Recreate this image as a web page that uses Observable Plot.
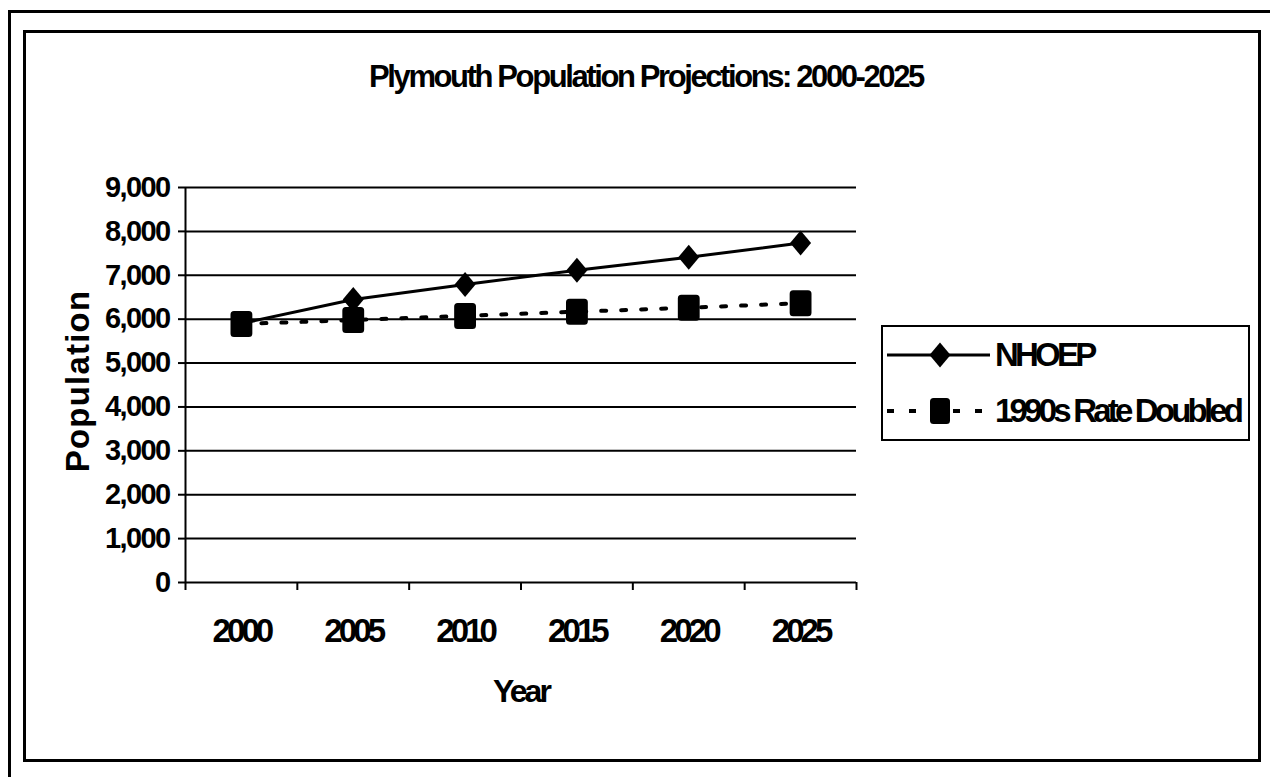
<!DOCTYPE html>
<html>
<head>
<meta charset="utf-8">
<script src="https://cdn.jsdelivr.net/npm/d3@7"></script>
<script src="https://cdn.jsdelivr.net/npm/@observablehq/plot@0.6"></script>
<style>
  html, body { margin: 0; padding: 0; background: #fff; }
  #page { position: relative; width: 1270px; height: 777px; overflow: hidden; font-family: "Liberation Sans", Arial, sans-serif; font-weight: bold; color: #000; }
  #chart { position: absolute; left: 0; top: 0; }
  #chart g[aria-label="x-axis tick label"] text { letter-spacing: -3.9px; }
  #chart g[aria-label="y-axis tick label"] text { letter-spacing: -1.6px; }
  .abs { position: absolute; white-space: nowrap; }
  #outer { position: absolute; left: 8px; top: 10px; width: 1400px; height: 900px; border-left: 3px solid #000; border-top: 3px solid #000; }
  #inner { position: absolute; left: 23px; top: 30px; width: 1238px; height: 732px; box-sizing: border-box; border: 3px solid #000; }
  #title { left: 0; width: 1292px; top: 59px; text-align: center; font-size: 31px; letter-spacing: -2.4px; line-height: 36px; }
  #ylabel { left: 78px; top: 381px; font-size: 33px; letter-spacing: 1.2px; transform: translate(-50%, -50%) rotate(-90deg); line-height: 36px; }
  #xlabel { left: 521px; top: 691px; font-size: 32px; letter-spacing: -2.9px; transform: translate(-50%, -50%); line-height: 36px; }
  #legend { position: absolute; left: 881px; top: 325px; width: 369px; height: 116px; box-sizing: border-box; border: 2px solid #000; }
  .ltext { position: absolute; left: 112px; font-size: 33px; letter-spacing: -3.8px; line-height: 36px; transform: translateY(-50%); white-space: nowrap; }
</style>
</head>
<body>
<div id="page">
  <div id="chart"></div>
  <div id="outer"></div>
  <div id="inner"></div>
  <div id="title" class="abs"></div>
  <div id="ylabel" class="abs"></div>
  <div id="xlabel" class="abs"></div>
  <div id="legend"></div>
</div>
<script>
// ---- data ----
const years = [2000, 2005, 2010, 2015, 2020, 2025];
const nhoep = [5900, 6450, 6790, 7115, 7410, 7735];
const doubled = [5890, 5980, 6075, 6170, 6260, 6365];
const seriesNames = ["NHOEP", "1990s Rate Doubled"];
const yTicks = [0, 1000, 2000, 3000, 4000, 5000, 6000, 7000, 8000, 9000];
const titleText = "Plymouth Population Projections: 2000-2025";
const xTitle = "Year";
const yTitle = "Population";

// category boundaries (Excel-style ticks between categories)
const step = years[1] - years[0];
const bounds = years.map(v => v - step / 2).concat([years[years.length - 1] + step / 2]);

const rowsA = years.map((y, i) => ({year: y, value: nhoep[i]}));
const rowsB = years.map((y, i) => ({year: y, value: doubled[i]}));

// custom symbols
const diamondSym = {
  draw(ctx, size) {
    const r = Math.sqrt(size / Math.PI);
    const w = r * 0.84;
    ctx.moveTo(0, -r); ctx.lineTo(w, 0); ctx.lineTo(0, r); ctx.lineTo(-w, 0); ctx.closePath();
  }
};
const squareSym = {
  draw(ctx, size) {
    const r = Math.sqrt(size / Math.PI);
    const h = r, w = r * 0.84, c = 3.5;
    ctx.moveTo(-w + c, -h);
    ctx.lineTo(w - c, -h); ctx.arcTo(w, -h, w, -h + c, c);
    ctx.lineTo(w, h - c); ctx.arcTo(w, h, w - c, h, c);
    ctx.lineTo(-w + c, h); ctx.arcTo(-w, h, -w, h - c, c);
    ctx.lineTo(-w, -h + c); ctx.arcTo(-w, -h, -w + c, -h, c);
    ctx.closePath();
  }
};

const font = '"Liberation Sans", Arial, sans-serif';

const chart = Plot.plot({
  width: 1270,
  height: 777,
  marginLeft: 185,
  marginRight: 414,
  marginTop: 187,
  marginBottom: 195,
  style: {background: "transparent", fontFamily: font, fontWeight: "bold", color: "#000", overflow: "visible"},
  x: {type: "linear", domain: [bounds[0], bounds[bounds.length - 1]], axis: null, label: null},
  y: {domain: [yTicks[0], yTicks[yTicks.length - 1]], axis: null, label: null},
  marks: [
    Plot.ruleY(yTicks, {stroke: "#000", strokeWidth: 2}),
    Plot.axisX({ticks: bounds, label: null, tickSize: 8, tickFormat: () => "", stroke: "#000", strokeWidth: 2, strokeOpacity: 1}),
    Plot.axisX({ticks: years, label: null, tickSize: 0, tickPadding: 36, tickFormat: d => String(d), fontSize: 33, fontWeight: "bold", fill: "#000"}),
    Plot.axisY({ticks: yTicks, label: null, tickSize: 7, tickPadding: 9, tickFormat: d3.format(","), fontSize: 29, fontWeight: "bold", fill: "#000", stroke: "#000", strokeWidth: 2, strokeOpacity: 1}),
    Plot.ruleX([bounds[0]], {y1: yTicks[0], y2: yTicks[yTicks.length - 1], stroke: "#000", strokeWidth: 2}),
    Plot.line(rowsA, {x: "year", y: "value", stroke: "#000", strokeWidth: 3}),
    Plot.line(rowsB, {x: "year", y: "value", stroke: "#000", strokeWidth: 4, strokeDasharray: "5,15"}),
    Plot.dot(rowsA, {x: "year", y: "value", symbol: diamondSym, r: 12.5, fill: "#000", stroke: "none"}),
    Plot.dot(rowsB, {x: "year", y: "value", symbol: squareSym, r: 13, fill: "#000", stroke: "none"})
  ]
});
document.getElementById("chart").appendChild(chart);

document.getElementById("title").textContent = titleText;
document.getElementById("ylabel").textContent = yTitle;
document.getElementById("xlabel").textContent = xTitle;

// legend
const leg = document.getElementById("legend");
const ns = "http://www.w3.org/2000/svg";
const sw = document.createElementNS(ns, "svg");
sw.setAttribute("width", "110");
sw.setAttribute("height", "112");
sw.style.position = "absolute";
sw.style.left = "0px";
sw.style.top = "0px";
const rowY = [28, 84];
function el(tag, attrs) { const e = document.createElementNS(ns, tag); for (const k in attrs) e.setAttribute(k, attrs[k]); sw.appendChild(e); return e; }
el("line", {x1: 4, x2: 107, y1: rowY[0], y2: rowY[0], stroke: "#000", "stroke-width": 3});
el("path", {d: `M57,${rowY[0]-12.5}L67.5,${rowY[0]}L57,${rowY[0]+12.5}L46.5,${rowY[0]}Z`, fill: "#000"});
el("line", {x1: 4, x2: 107, y1: rowY[1], y2: rowY[1], stroke: "#000", "stroke-width": 4, "stroke-dasharray": "7,15"});
el("rect", {x: 47, y: rowY[1] - 13, width: 20, height: 26, rx: 3.5, fill: "#000"});
leg.appendChild(sw);
seriesNames.forEach((n, i) => {
  const d = document.createElement("div");
  d.className = "ltext";
  d.style.top = rowY[i] + "px";
  d.textContent = n;
  leg.appendChild(d);
});
</script>
</body>
</html>
